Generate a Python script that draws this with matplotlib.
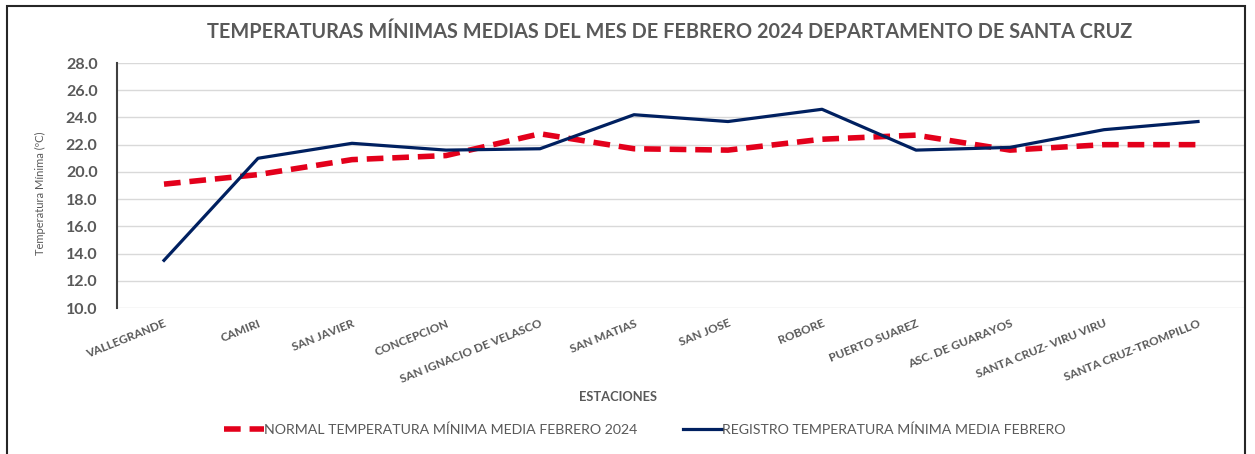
import numpy as np
import matplotlib.pyplot as plt
from matplotlib.patches import Rectangle

plt.rcParams['font.family'] = ['Lato', 'DejaVu Sans']

estaciones = ['VALLEGRANDE', 'CAMIRI', 'SAN JAVIER', 'CONCEPCION',
              'SAN IGNACIO DE VELASCO', 'SAN MATIAS', 'SAN JOSE', 'ROBORE',
              'PUERTO SUAREZ', 'ASC. DE GUARAYOS', 'SANTA CRUZ- VIRU VIRU',
              'SANTA CRUZ-TROMPILLO']
normal = [19.1, 19.8, 20.9, 21.2, 22.8, 21.7, 21.6, 22.4, 22.7, 21.6, 22.0, 22.0]
registro = [13.5, 21.0, 22.1, 21.6, 21.7, 24.2, 23.7, 24.6, 21.6, 21.8, 23.1, 23.7]
yticks = np.arange(10.0, 28.1, 2.0)

gray = '#595959'
red = '#E3001B'
navy = '#002060'

fig = plt.figure(figsize=(12.55, 4.54), dpi=100)
ax = fig.add_axes([117 / 1255, 1 - 308 / 454, 1128 / 1255, 245 / 454])

x = np.arange(len(estaciones))
ax.plot(x, normal, color=red, lw=4, ls=(0, (3, 1.6)),
        label='NORMAL TEMPERATURA MÍNIMA MEDIA FEBRERO 2024')
ax.plot(x, registro, color=navy, lw=2.3,
        label='REGISTRO TEMPERATURA MÍNIMA MEDIA FEBRERO')

ax.set_xlim(-0.5, len(estaciones) - 0.5)
ax.set_ylim(10, 28)
ax.set_yticks(yticks)
ax.set_yticklabels([f'{v:.1f}' for v in yticks], fontsize=11.5,
                   fontweight='bold', color=gray)
ax.set_xticks(x)
ax.set_xticklabels(estaciones, rotation=22, ha='right', rotation_mode='anchor',
                   fontsize=8.5, fontweight='bold', color=gray)
ax.tick_params(axis='both', length=0)
ax.tick_params(axis='y', pad=14)
ax.tick_params(axis='x', pad=7)
ax.grid(axis='y', color='#D9D9D9', lw=1)
ax.set_axisbelow(True)
for s in ['top', 'right', 'bottom']:
    ax.spines[s].set_visible(False)
ax.spines['left'].set_color('#404040')
ax.spines['left'].set_linewidth(1.5)

fig.text(40 / 1255, 1 - 193 / 454, 'Temperatura Mínima (ºC)', rotation=90,
         ha='center', va='center', fontsize=8, color=gray)
fig.text(618 / 1255, 1 - 397 / 454, 'ESTACIONES', ha='center', va='center',
         fontsize=9.3, fontweight='bold', color=gray)
fig.text(670 / 1255, 1 - 32 / 454,
         'TEMPERATURAS MÍNIMAS MEDIAS DEL MES DE FEBRERO 2024 DEPARTAMENTO DE SANTA CRUZ',
         ha='center', va='center', fontsize=14.3, fontweight='bold', color=gray)

leg = fig.legend(loc='center', bbox_to_anchor=(645 / 1255, 1 - 430 / 454),
                 ncol=2, frameon=False, fontsize=10.2, handlelength=2.8,
                 handletextpad=0.0, columnspacing=3.2)
for t in leg.get_texts():
    t.set_color(gray)

fig.patches.append(Rectangle((7 / 1255, -0.05), 1238 / 1255, 1.05 - 6 / 454,
                             transform=fig.transFigure, fill=False,
                             edgecolor='#262626', lw=1.5))

fig.savefig('out.png', dpi=100)
